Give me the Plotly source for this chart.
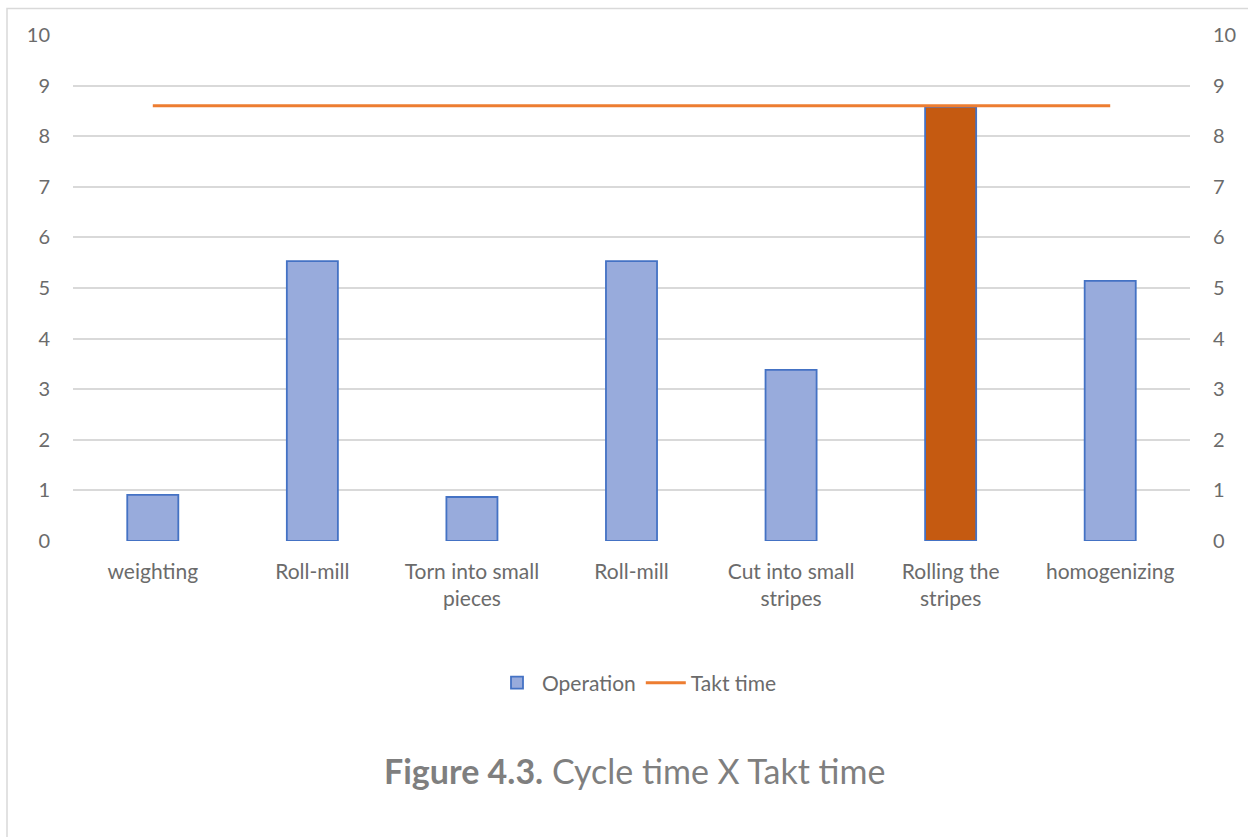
import plotly.graph_objects as go

categories = ["weighting", "Roll-mill", "Torn into small<br>pieces", "Roll-mill",
              "Cut into small<br>stripes", "Rolling the<br>stripes", "homogenizing"]
operation = [0.91, 5.53, 0.87, 5.53, 3.38, 8.58, 5.14]
takt_time = [8.6, 8.6, 8.6, 8.6, 8.6, 8.6, 8.6]
y_ticks = [0, 1, 2, 3, 4, 5, 6, 7, 8, 9, 10]

W, H = 1248, 837
L, R, T, B = 73, 58, 35, 296
pw, ph = W - L - R, H - T - B

def px_x(p):
    return (p - L) / pw

def px_y(p):
    return (H - B - p) / ph

xs = list(range(len(categories)))
bar_colors = ["#98abdc"] * len(categories)
bar_colors[5] = "#c55a11"

FONT = "Lato, Carlito, Calibri, sans-serif"
GRAY = "#6b6b6b"

fig = go.Figure()
fig.add_trace(go.Bar(
    x=xs, y=operation, name="Operation",
    marker=dict(color=bar_colors, line=dict(color="#4472c4", width=1.8)),
    hoverinfo="skip",
))
fig.add_trace(go.Scatter(
    x=xs, y=takt_time, name="Takt time", mode="lines",
    line=dict(color="#ed7d31", width=3), hoverinfo="skip",
))
# invisible trace to drive the right-side axis
fig.add_trace(go.Scatter(x=xs, y=takt_time, yaxis="y2", mode="lines",
                         line=dict(width=0), opacity=0, showlegend=False,
                         hoverinfo="skip"))

fig.update_layout(
    width=W, height=H,
    margin=dict(l=L, r=R, t=T, b=B),
    paper_bgcolor="white", plot_bgcolor="white",
    font=dict(family=FONT, size=20, color=GRAY),
    bargap=0.68,
    showlegend=True,
    legend=dict(orientation="h", x=px_x(637), xanchor="center",
                y=px_y(683), yanchor="middle",
                font=dict(size=21, color=GRAY, family=FONT),
                tracegroupgap=0, itemwidth=40),
    xaxis=dict(range=[-0.5, len(categories) - 0.5], tickmode="array",
               tickvals=xs, ticktext=categories, showgrid=False,
               zeroline=False, showline=False, ticks="",
               ticklabelstandoff=16,
               tickfont=dict(size=21, color=GRAY)),
    yaxis=dict(range=[0, 10], tickvals=y_ticks, showgrid=True,
               gridcolor="#d9d9d9", gridwidth=1.5, zeroline=False,
               showline=False, ticks="", ticklabelstandoff=22,
               tickfont=dict(size=20, color=GRAY)),
    yaxis2=dict(range=[0, 10], tickvals=y_ticks, overlaying="y", side="right",
                showgrid=False, zeroline=False, showline=False, ticks="",
                ticklabelstandoff=22, tickfont=dict(size=20, color=GRAY)),
    shapes=[dict(type="rect", xref="paper", yref="paper",
                 x0=px_x(7), x1=px_x(1275), y0=px_y(870), y1=px_y(8.5),
                 line=dict(color="#d9d9d9", width=1.5), fillcolor="rgba(0,0,0,0)",
                 layer="below")],
    annotations=[dict(text="<b>Figure 4.3.</b> Cycle time X Takt time",
                      xref="paper", yref="paper", x=px_x(634), y=px_y(770),
                      xanchor="center", yanchor="middle", showarrow=False,
                      font=dict(size=34, color="#7f7f7f", family=FONT))],
)

fig.write_html("out.html", config={"displayModeBar": False},
               post_script="document.body.style.margin='0';")
